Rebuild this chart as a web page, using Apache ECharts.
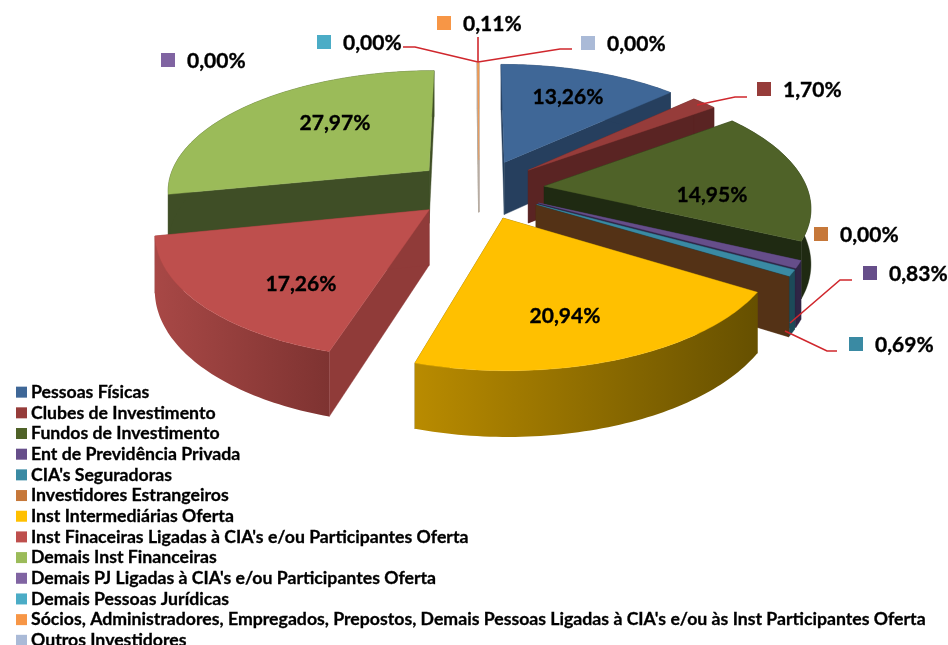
<!DOCTYPE html>
<html><head><meta charset="utf-8">
<style>html,body{margin:0;padding:0;background:#fff}#c{width:948px;height:645px}</style>
<script src="https://cdn.jsdelivr.net/npm/echarts@6/dist/echarts.min.js"></script>
</head><body><div id="c"></div>
<script>
const categories = ["Pessoas Físicas","Clubes de Investimento","Fundos de Investimento","Ent de Previdência Privada","CIA's Seguradoras","Investidores Estrangeiros","Inst Intermediárias Oferta","Inst Finaceiras Ligadas à CIA's e/ou Participantes Oferta","Demais Inst Financeiras","Demais PJ Ligadas à CIA's e/ou Participantes Oferta","Demais Pessoas Jurídicas","Sócios, Administradores, Empregados, Prepostos, Demais Pessoas Ligadas à CIA's e/ou às Inst Participantes Oferta","Outros Investidores"];
const shares = [13.26,1.70,14.95,0.83,0.69,0.00,20.94,17.26,27.97,0.00,0.00,0.11,0.00];
const topColors = ["#3F6797","#963C3A","#4F6228","#664E8A","#3A8AA3","#C6783A","#FFC000","#BE4F4D","#9BBB59","#8064A2","#4BACC6","#F79646","#AABAD7"];
const radialWalls = ["#263F5E","#5A2423","#1F2A12","#2F2545","#1C4A58","#543216","#6B5400","#903B39","#3F4E26","#B8AFA5","#B8AFA5","#B8AFA5","#B8AFA5"];
const arcWalls = [["#263F5E","#263F5E"],["#5A2423","#5A2423"],["#1F2A12","#1F2A12"],["#2F2545","#2F2545"],["#1C4A58","#1C4A58"],["#543216","#543216"],["#B98B00","#665000"],["#A84846","#7E3331"],["#3F4E26","#3F4E26"],["#B8AFA5","#B8AFA5"],["#B8AFA5","#B8AFA5"],["#B8AFA5","#B8AFA5"],["#B8AFA5","#B8AFA5"]];
const insideLabels = {0:[568,97],2:[712,195],6:[565,316],7:[301,284],8:[335,123]};
const outsideLabels = {1:[757,89],3:[863,273],4:[849,344],5:[814,234],9:[161,60],10:[317,42],11:[437,23],12:[581,43]};
const leaderLines = [
  [[403,47],[415,47],[478,62]],
  [[478,37],[478,62]],
  [[478,62],[560,49],[572,49]],
  [[697,105],[735,97],[747,97]],
  [[790,323],[840,280],[852,280]],
  [[785,331],[827,351],[837,351]]
];
const FONT = "Lato";
const geo = {cx:479, cy:189, rx:263, ry:120, e:0.25, h:54, p:0.15};
const total = shares.reduce((a,b)=>a+b,0);
const warp = a => a + (2.6*(1-Math.cos(a)) - 3*Math.sin(2*a))*Math.PI/180;
let run = 0;
const slices = shares.map(v=>{
  const a0=warp(run/total*2*Math.PI); run+=v; const a1=warp(run/total*2*Math.PI);
  return {a0,a1,mid:(a0+a1)/2};
});
function proj(u,v,z){const w=1/(1+geo.p*v);return [geo.cx+geo.rx*u*w, geo.cy-geo.ry*v*w+z*geo.h*w];}
function sliceShapes(i){
  const s=slices[i],ou=geo.e*Math.sin(s.mid),ov=geo.e*Math.cos(s.mid);
  const n=Math.max(2,Math.ceil((s.a1-s.a0)/0.02));
  const arcT=[],arcB=[];
  for(let k=0;k<=n;k++){const a=s.a0+(s.a1-s.a0)*k/n,u=ou+Math.sin(a),v=ov+Math.cos(a);arcT.push(proj(u,v,0));arcB.push(proj(u,v,1));}
  const apT=proj(ou,ov,0),apB=proj(ou,ov,1);
  const poly=(pts,fill)=>({type:'polygon',shape:{points:pts},style:{fill:fill,stroke:typeof fill==='string'?fill:null,lineWidth:0.4}});
  const grad=arcWalls[i][0]===arcWalls[i][1]?arcWalls[i][0]:{type:'linear',x:0,y:0,x2:1,y2:0,colorStops:[{offset:0,color:arcWalls[i][0]},{offset:1,color:arcWalls[i][1]}]};
  const children=[];
  children.push(poly([apT,arcT[0],arcB[0],apB],radialWalls[i]));
  children.push(poly([apT,arcT[n],arcB[n],apB],radialWalls[i]));
  if(shares[i]>0){
    children.push(poly(arcT.concat(arcB.slice().reverse()),grad));
    children.push(poly([apT].concat(arcT),topColors[i]));
  }
  return children;
}
const sortKey = i => Math.cos(slices[i].mid)+(shares[i]===0?0.01:0);
const order = slices.map((s,i)=>i).sort((a,b)=>sortKey(b)-sortKey(a));
const fmt=v=>v.toFixed(2).replace('.',',');
const series = categories.map((name,i)=>({
  name, type:'custom', coordinateSystem:'none', silent:true, animation:false,
  z:2+order.indexOf(i)/10,
  itemStyle:{color:topColors[i]},
  data:[[shares[i]]],
  renderItem:()=>({type:'group',children:sliceShapes(i)})
}));
const labelStyle={fontFamily:FONT,fontWeight:'bold',fontSize:21,fill:'#000',stroke:'#000',lineWidth:0.35};
series.push({
  name:'rotulos', type:'custom', coordinateSystem:'none', silent:true, animation:false, z:5,
  data:[[0]],
  renderItem:()=>{
    const ch=[];
    leaderLines.forEach(l=>ch.push({type:'polyline',shape:{points:l},style:{fill:null,stroke:'#D0272D',lineWidth:1.6}}));
    Object.keys(insideLabels).forEach(i=>{const p=insideLabels[i];ch.push({type:'text',style:Object.assign({text:fmt(shares[i])+'%',x:p[0],y:p[1],align:'center',verticalAlign:'middle'},labelStyle)});});
    Object.keys(outsideLabels).forEach(i=>{const p=outsideLabels[i];
      ch.push({type:'rect',shape:{x:p[0],y:p[1]-7,width:14,height:14},style:{fill:topColors[i]}});
      ch.push({type:'text',style:Object.assign({text:fmt(shares[i])+'%',x:p[0]+26,y:p[1]+1,align:'left',verticalAlign:'middle'},labelStyle)});});
    return {type:'group',children:ch};
  }
});
const chart = echarts.init(document.getElementById('c'),null,{renderer:'canvas'});
chart.setOption({
  animation:false,
  backgroundColor:'#fff',
  legend:{data:categories,orient:'vertical',left:16,top:383,height:290,padding:0,icon:'rect',itemWidth:11,itemHeight:11,itemGap:2.38,selectedMode:false,
    textStyle:{fontFamily:FONT,fontWeight:'bold',fontSize:17.68,color:'#000',textBorderColor:'#000',textBorderWidth:0.3,padding:[0,0,0,-1],lineHeight:17}},
  series
});
</script></body></html>
